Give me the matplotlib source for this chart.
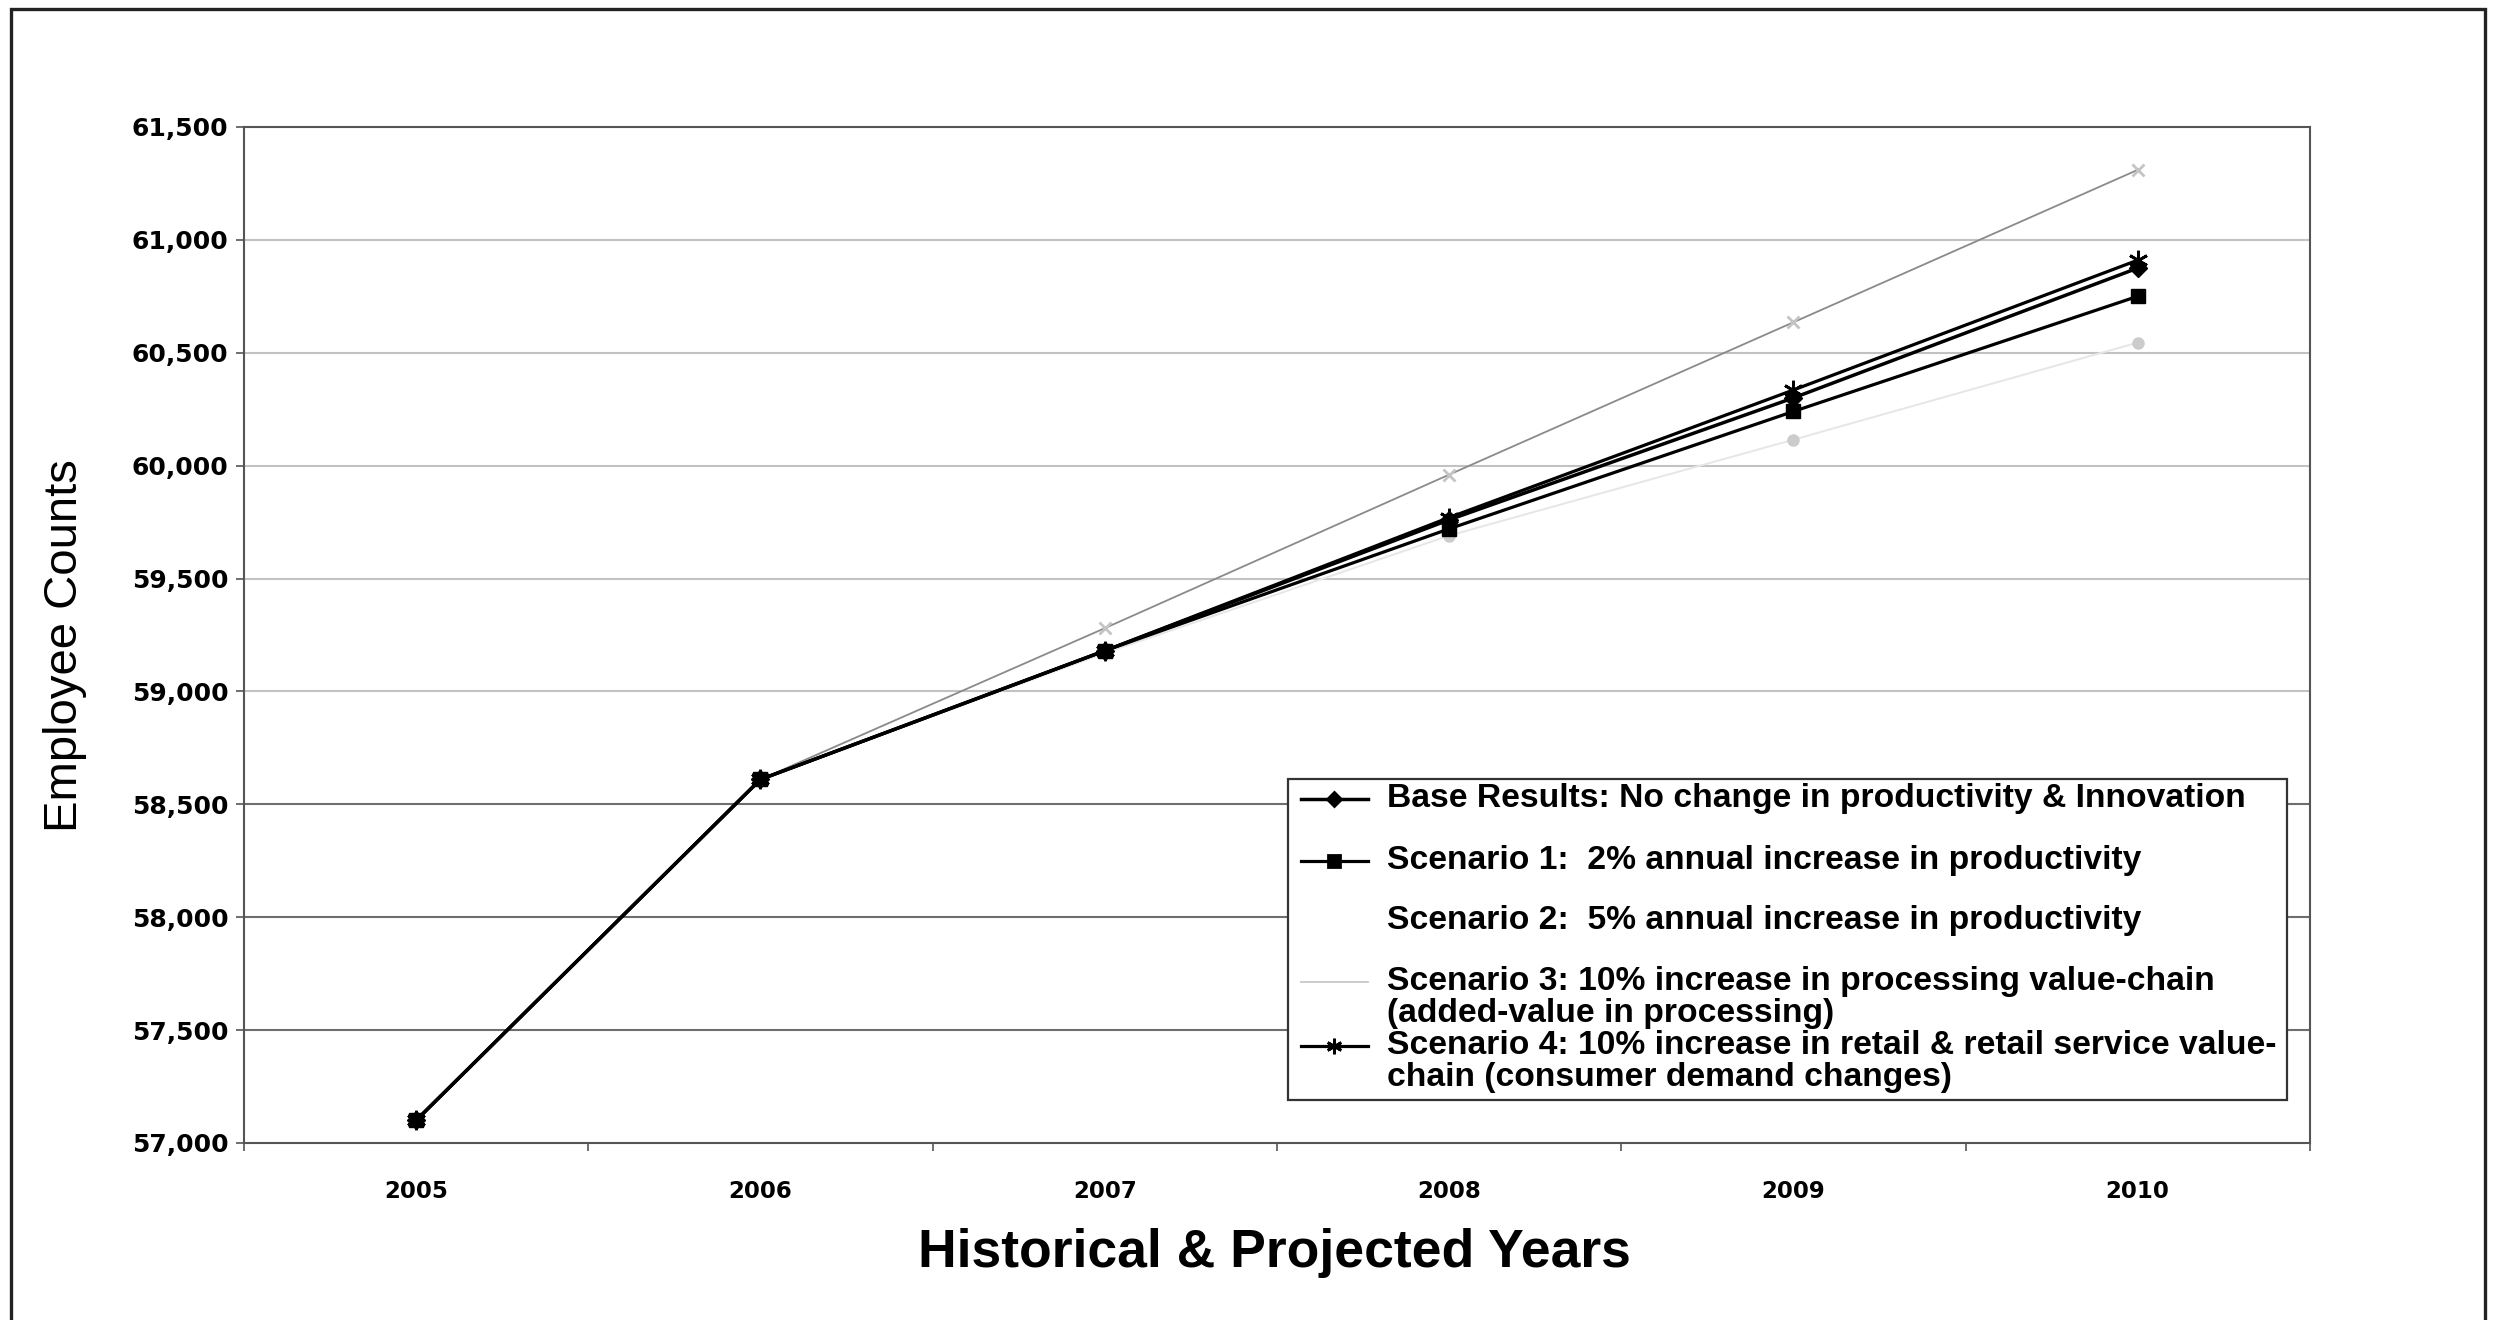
import matplotlib
matplotlib.use('Agg')
import matplotlib.pyplot as plt
from matplotlib.lines import Line2D
from matplotlib.patches import Rectangle
from matplotlib.ticker import FuncFormatter

# employee counts by year, historical (2005-2006) then projected
years = ['2005', '2006', '2007', '2008', '2009', '2010']
base_results = [57100, 58610, 59180, 59760, 60300, 60875]
scenario_1 = [57100, 58610, 59180, 59720, 60240, 60750]
scenario_2 = [57100, 58610, 59170, 59690, 60115, 60545]
scenario_3 = [57100, 58610, 59280, 59960, 60635, 61310]
scenario_4 = [57100, 58610, 59180, 59770, 60335, 60910]

labels = ['Base Results: No change in productivity & Innovation',
          'Scenario 1:  2% annual increase in productivity',
          'Scenario 2:  5% annual increase in productivity',
          'Scenario 3: 10% increase in processing value-chain\n(added-value in processing)',
          'Scenario 4: 10% increase in retail & retail service value-\nchain (consumer demand changes)']

y_ticks = list(range(57000, 61501, 500))

plt.rcParams['font.family'] = ['Liberation Sans', 'DejaVu Sans']

fig = plt.figure(figsize=(24.99, 13.2), dpi=100)
ax = fig.add_axes([0.0976, 0.1341, 0.8267, 0.7697])

# outer border round the whole chart
fig.patches.append(Rectangle((0.0045, -0.02), 0.990, 1.0135, transform=fig.transFigure,
                             fill=False, ec='#222222', lw=2.4))

x = list(range(len(years)))

# series styles: (values, line colour, width, marker, marker size, marker colour)
series = [
    (base_results, 'black', 2.5, 'D', 9, 'black'),
    (scenario_1, 'black', 2.3, 's', 10, 'black'),
    (scenario_2, '#e6e6e6', 1.4, 'o', 8, '#cccccc'),
    (scenario_3, '#8a8a8a', 1.3, 'x', 8, '#c4c4c4'),
    (scenario_4, 'black', 2.3, (6, 2, 0), 14, 'black'),
]
z_order = [4, 4, 2, 3, 5]

for (vals, col, lw, mk, ms, mcol), z in zip(series, z_order):
    ax.plot(x, vals, color=col, lw=lw, marker=mk, ms=ms, mfc=mcol, mec=mcol,
            mew=2 if mk in ('x', (6, 2, 0)) else 1, zorder=z)

# horizontal gridlines, lower ones printed darker
for v in y_ticks[1:-1]:
    ax.axhline(v, color='#6e6e6e' if v <= 58500 else '#c2c2c2', lw=1.5, zorder=1)

ax.set_xlim(-0.5, len(years) - 0.5)
ax.set_ylim(y_ticks[0], y_ticks[-1])
ax.set_yticks(y_ticks)
ax.yaxis.set_major_formatter(FuncFormatter(lambda v, p: f'{int(v):,}'))
ax.set_xticks(x)
ax.set_xticklabels(years)
ax.set_xticks([i - 0.5 for i in range(len(years) + 1)], minor=True)

ax.tick_params(axis='x', which='major', length=0, pad=27)
ax.tick_params(axis='x', which='minor', length=6, width=1.2, color='#555555', direction='out')
ax.tick_params(axis='y', length=6, width=1.2, color='#555555', pad=5)
for lab in ax.get_yticklabels():
    lab.set_fontfamily('DejaVu Sans')
    lab.set_fontweight('bold')
    lab.set_fontsize(18)
for lab in ax.get_xticklabels():
    lab.set_fontfamily('DejaVu Sans')
    lab.set_fontweight('bold')
    lab.set_fontsize(16.5)

for side in ['left', 'right', 'top', 'bottom']:
    ax.spines[side].set_color('#555555')
    ax.spines[side].set_linewidth(1.5)

fig.text(0.5098, 0.0505, 'Historical & Projected Years', ha='center', va='center',
         fontsize=38.5, fontweight='bold')
fig.text(0.026, 0.511, 'Employee Counts', ha='center', va='center', rotation=90,
         fontsize=34)

# legend box drawn in axes coordinates
leg_x0, leg_x1, leg_y0, leg_y1 = 0.5053, 0.9889, 0.0423, 0.3583
ax.add_patch(Rectangle((leg_x0, leg_y0), leg_x1 - leg_x0, leg_y1 - leg_y0,
                       transform=ax.transAxes, fc='white', ec='#333333', lw=1.6, zorder=6))
rows = [0.3386, 0.2776, 0.2185, 0.1585, 0.0955]
line_step = 0.0315
for (vals, col, lw, mk, ms, mcol), label, y in zip(series, labels, rows):
    ax.add_line(Line2D([0.5115, 0.5440], [y, y], transform=ax.transAxes,
                       color=col if col == 'black' else '#c8c8c8' if col == '#8a8a8a' else 'white',
                       lw=lw, zorder=7))
    if col == 'black':
        ax.add_line(Line2D([0.5278], [y], transform=ax.transAxes, marker=mk, ms=ms * 0.8,
                           mfc=mcol, mec=mcol, mew=2, zorder=8))
    for k, part in enumerate(label.split('\n')):
        ax.text(0.5533, y - k * line_step, part, transform=ax.transAxes, ha='left',
                va='center', fontsize=24.2, fontweight='bold', zorder=8)

ax.set_xlim(-0.5, len(years) - 0.5)
ax.set_ylim(y_ticks[0], y_ticks[-1])

fig.savefig('out.png', dpi=100, facecolor='white')
